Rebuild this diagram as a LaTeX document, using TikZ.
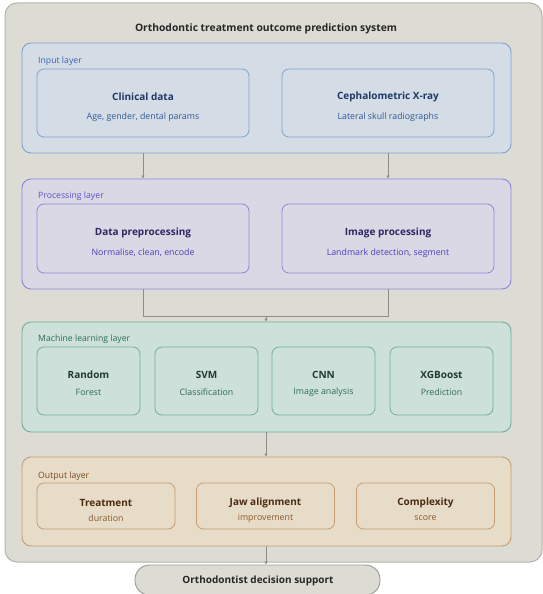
\documentclass[tikz,border=0pt]{standalone}
\usepackage{fontspec}
\setmainfont{Open Sans}
\usetikzlibrary{arrows.meta}

% palette
\definecolor{outerfill}{HTML}{DCDBD4}
\definecolor{outerline}{HTML}{B3B3AC}
\definecolor{linec}{HTML}{8E8E88}
\definecolor{infill}{HTML}{D4DDE6}
\definecolor{inline}{HTML}{7FA2CE}
\definecolor{inlab}{HTML}{3A62AE}
\definecolor{inttl}{HTML}{1E3766}
\definecolor{insub}{HTML}{2F5699}
\definecolor{prfill}{HTML}{DBD8E6}
\definecolor{prline}{HTML}{8C86D8}
\definecolor{prlab}{HTML}{5A50C6}
\definecolor{prttl}{HTML}{2B2762}
\definecolor{prsub}{HTML}{4A3FB8}
\definecolor{mlfill}{HTML}{CDE0DA}
\definecolor{mlline}{HTML}{72AE99}
\definecolor{mllab}{HTML}{2E6B56}
\definecolor{mlttl}{HTML}{1F3B31}
\definecolor{mlsub}{HTML}{2E6B56}
\definecolor{oufill}{HTML}{E6DCC7}
\definecolor{ouline}{HTML}{C79D74}
\definecolor{oulab}{HTML}{7B4B22}
\definecolor{outtl}{HTML}{4A2B10}
\definecolor{ousub}{HTML}{8A5A2E}
\definecolor{pillline}{HTML}{9C9C97}

\begin{document}
\begin{tikzpicture}[x=1pt,y=-1pt,
  outerbox/.style={draw=outerline, fill=outerfill, line width=1pt, rounded corners=12pt,
    minimum width=537pt, minimum height=559pt, inner sep=0pt},
  layer/.style={line width=0.9pt, rounded corners=9pt, minimum width=489pt, inner sep=0pt},
  card/.style={line width=0.8pt, rounded corners=7pt, inner sep=0pt},
  laylabel/.style={anchor=west, font=\fontsize{8.7}{10}\selectfont, inner sep=0pt},
  ttl/.style={font=\fontsize{10}{12}\selectfont\bfseries, inner sep=0pt},
  sub/.style={font=\fontsize{8.8}{10}\selectfont, inner sep=0pt},
  link/.style={draw=linec, line width=1pt},
  arr/.style={link, -{Latex[length=3pt,width=3.6pt]}},
  inst/.style={layer, draw=inline, fill=infill},
  prst/.style={layer, draw=prline, fill=prfill},
  mlst/.style={layer, draw=mlline, fill=mlfill},
  oust/.style={layer, draw=ouline, fill=oufill},
  incard/.style={card, draw=inline, fill=infill, minimum width=212pt, minimum height=68pt},
  prcard/.style={card, draw=prline, fill=prfill, minimum width=212pt, minimum height=69pt},
  mlcard/.style={card, draw=mlline, fill=mlfill, minimum width=103pt, minimum height=68pt},
  oucard/.style={card, draw=ouline, fill=oufill, minimum width=138pt, minimum height=46pt},
]
\useasboundingbox (0,0) rectangle (543,594);

% system frame and heading
\node[outerbox] (sys) at (273.5,282.5) {};
\node[font=\fontsize{10.3}{12}\selectfont\bfseries, text=black!85] (head) at (266,29) {Orthodontic treatment outcome prediction system};

% ---- input layer
\node[inst, minimum height=110pt] (inL) at (266.5,98) {};
\node[laylabel, text=inlab] (inLab) at (38,61) {Input layer};
\node[incard] (clin) at (143,103) {};
\node[incard] (ceph) at (388,103) {};
\node[ttl, text=inttl] (clinT) at (143,97) {Clinical data};
\node[sub, text=insub] (clinS) at (143,117) {Age, gender, dental params};
\node[ttl, text=inttl] (cephT) at (388,97) {Cephalometric X-ray};
\node[sub, text=insub] (cephS) at (388,117) {Lateral skull radiographs};

% ---- processing layer
\node[prst, minimum height=110pt] (prL) at (266.5,234) {};
\node[laylabel, text=prlab] (prLab) at (38,196) {Processing layer};
\node[prcard] (dpre) at (143,238.5) {};
\node[prcard] (ipro) at (388,238.5) {};
\node[ttl, text=prttl] (dpreT) at (143,233) {Data preprocessing};
\node[sub, text=prsub] (dpreS) at (143,253) {Normalise, clean, encode};
\node[ttl, text=prttl] (iproT) at (388,233) {Image processing};
\node[sub, text=prsub] (iproS) at (388,253) {Landmark detection, segment};

% ---- machine learning layer
\node[mlst, minimum height=110pt] (mlL) at (266.5,377) {};
\node[laylabel, text=mllab] (mlLab) at (38,339) {Machine learning layer};
\node[mlcard] (rf)  at (88.5,381) {};
\node[mlcard] (svm) at (206.5,381) {};
\node[mlcard] (cnn) at (323.5,381) {};
\node[mlcard] (xgb) at (441.5,381) {};
\node[ttl, text=mlttl] (rfT)  at (88.5,375) {Random};
\node[sub, text=mlsub] (rfS)  at (88.5,392) {Forest};
\node[ttl, text=mlttl] (svmT) at (206.5,375) {SVM};
\node[sub, text=mlsub] (svmS) at (206.5,392) {Classification};
\node[ttl, text=mlttl] (cnnT) at (323.5,375) {CNN};
\node[sub, text=mlsub] (cnnS) at (323.5,392) {Image analysis};
\node[ttl, text=mlttl] (xgbT) at (441.5,375) {XGBoost};
\node[sub, text=mlsub] (xgbS) at (441.5,392) {Prediction};

% ---- output layer
\node[oust, minimum height=89pt] (ouL) at (266.5,501.5) {};
\node[laylabel, text=oulab] (ouLab) at (38,476) {Output layer};
\node[oucard] (dur) at (106,506) {};
\node[oucard] (jaw) at (265.5,506) {};
\node[oucard] (cpx) at (425.5,506) {};
\node[ttl, text=outtl] (durT) at (106,503) {Treatment};
\node[sub, text=ousub] (durS) at (106,518) {duration};
\node[ttl, text=outtl] (jawT) at (265.5,503) {Jaw alignment};
\node[sub, text=ousub] (jawS) at (265.5,518) {improvement};
\node[ttl, text=outtl] (cpxT) at (425.5,503) {Complexity};
\node[sub, text=ousub] (cpxS) at (425.5,518) {score};

% ---- decision support
\node[draw=pillline, fill=outerfill, line width=0.9pt, rounded corners=14.5pt,
  minimum width=245pt, minimum height=30pt, inner sep=0pt] (dec) at (257.5,580) {};
\node[ttl, text=black!85] (decT) at (258,581) {Orthodontist decision support};

% ---- connectors
\draw[arr] (clin |- inL.south) -- (clin |- prL.north);
\draw[arr] (ceph |- inL.south) -- (ceph |- prL.north);
\coordinate (merge) at (266,316);
\draw[link] (dpre |- prL.south) |- (merge);
\draw[link] (ipro |- prL.south) |- (merge);
\draw[arr] (merge) -- (merge |- mlL.north);
\draw[arr] (merge |- mlL.south) -- (merge |- ouL.north);
\draw[arr] (merge |- ouL.south) -- (merge |- dec.north);
\end{tikzpicture}
\end{document}
